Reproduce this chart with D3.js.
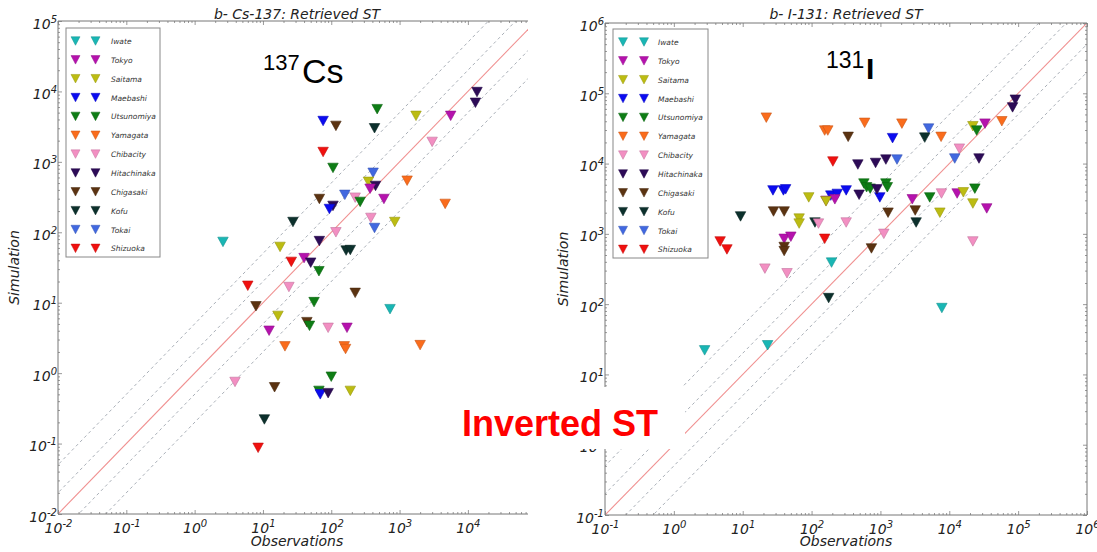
<!DOCTYPE html>
<html><head><meta charset="utf-8">
<script src="https://cdn.jsdelivr.net/npm/d3@7"></script>
<style>body{margin:0;background:#fff}svg{display:block}</style>
</head><body>
<svg id="c" width="1097" height="552" font-family="DejaVu Sans, sans-serif"></svg>
<script>
// ---------- data ----------
const stations = ["Iwate","Tokyo","Saitama","Maebashi","Utsunomiya","Yamagata","Chibacity","Hitachinaka","Chigasaki","Kofu","Tokai","Shizuoka"];
const stationColors = ["#19b6b4","#b512ad","#bcbc12","#0b0bf0","#0e7d15","#fa6c1c","#f28fc2","#2d0b57","#5b3311","#0c302c","#4168e0","#f0100f"];

// Cs-137 panel
const csStation = ["Hitachinaka","Hitachinaka","Utsunomiya","Saitama","Tokyo","Maebashi","Chigasaki","Kofu","Chibacity","Shizuoka",
  "Utsunomiya","Tokai","Saitama","Hitachinaka","Tokyo","Yamagata","Yamagata","Tokyo","Chigasaki","Tokai",
  "Chibacity","Utsunomiya","Hitachinaka","Maebashi","Chibacity","Saitama","Tokai","Kofu","Chibacity","Iwate",
  "Hitachinaka","Saitama","Kofu","Kofu","Shizuoka","Tokyo","Hitachinaka","Utsunomiya","Shizuoka","Chibacity",
  "Chigasaki","Utsunomiya","Chigasaki","Iwate","Saitama","Chigasaki","Utsunomiya","Tokyo","Chibacity","Tokyo",
  "Yamagata","Yamagata","Yamagata","Yamagata","Chibacity","Chigasaki","Utsunomiya","Utsunomiya","Maebashi","Hitachinaka",
  "Saitama","Kofu","Shizuoka"];
const csObs = [13600,12900,470,1740,5600,76,117,430,3000,76,
  106,410,350,445,370,1290,4650,590,67,158,
  224,265,106,94,380,850,430,27.5,117,2.6,
  67,17.8,165,190,26,40,50,66,6.0,24,
  224,56,7.9,725,16.6,44,48,12.3,90,170,
  21,155,162,2000,3.9,14.8,100,66,69,90,
  190,10.5,8.5];
const csSim = [9800,6900,5600,4500,4500,3800,3240,3000,1920,1380,
  820,700,520,455,415,540,253,297,297,340,
  310,270,237,214,160,140,115,140,100,73,
  75,62,55,56,38,43,37,28,17.4,16.7,
  13.8,10.2,8.9,8.1,6.5,5.3,4.7,4.0,4.4,4.4,
  2.4,2.4,2.2,2.5,0.75,0.63,0.89,0.56,0.5,0.52,
  0.56,0.22,0.087];

// I-131 panel
const iStation = ["Hitachinaka","Hitachinaka","Yamagata","Yamagata","Yamagata","Yamagata","Yamagata","Yamagata","Yamagata","Chigasaki",
  "Tokai","Kofu","Maebashi","Saitama","Tokyo","Utsunomiya","Chibacity","Tokai","Hitachinaka","Shizuoka",
  "Hitachinaka","Hitachinaka","Hitachinaka","Tokai","Maebashi","Maebashi","Maebashi","Maebashi","Maebashi","Maebashi",
  "Maebashi","Utsunomiya","Utsunomiya","Utsunomiya","Utsunomiya","Utsunomiya","Hitachinaka","Hitachinaka","Tokyo","Tokyo",
  "Saitama","Saitama","Chigasaki","Chigasaki","Kofu","Saitama","Saitama","Kofu","Chibacity","Chibacity",
  "Chigasaki","Chigasaki","Kofu","Utsunomiya","Tokyo","Chibacity","Tokyo","Saitama","Utsunomiya","Saitama",
  "Tokyo","Saitama","Chibacity","Chibacity","Chigasaki","Tokyo","Tokyo","Chigasaki","Chigasaki","Shizuoka",
  "Shizuoka","Shizuoka","Chibacity","Chibacity","Iwate","Kofu","Iwate","Iwate","Iwate"];
const iObs = [91000,83000,22,155,172,590,2050,7600,58000,340,
  5000,4400,1500,22000,33000,25000,14000,12000,27000,204,
  470,850,1200,1740,27.5,39,42,190,236,318,
  980,575,630,710,1200,1260,490,890,218,162,
  91,162,28,40,9.3,66,66,112,126,318,
  1290,3200,3300,5200,2900,7700,13000,16000,23500,22000,
  35000,7300,1120,22000,740,40,50,40,40,155,
  4.7,5.9,21,44,195,177,7800,2.8,23];
const iSim = [81000,63000,45000,29500,29500,38000,37000,24000,40000,24000,
  31500,23400,23000,34000,37000,29500,16300,11800,11800,10700,
  9700,10200,11400,11400,4150,4150,4300,3500,3700,4150,
  3300,5200,4600,4400,5200,4600,3600,4300,3100,2950,
  3300,2900,2080,2080,1770,1650,1400,1450,1400,1450,
  2000,2150,1450,3300,3100,3750,3750,3900,4400,2700,
  2300,2000,1000,780,620,850,910,650,570,850,
  780,600,320,275,390,122,88,22,26];

// tick exponents
const csXTicks = [-2,-1,0,1,2,3,4];
const csYTicks = [-2,-1,0,1,2,3,4,5];
const iXTicks = [-1,0,1,2,3,4,5,6];
const iYTicks = [-1,0,1,2,3,4,5,6];
const diagRatios = [0.2,0.5,2,5];

// ---------- drawing ----------
const svg = d3.select("#c");
const colorOf = name => stationColors[stations.indexOf(name)];
const tri = (w,h) => `M${-w/2},${-h/2}L${w/2},${-h/2}L0,${h/2}Z`;

function superLabel(sel){
  sel.each(function(d){
    const e = Math.round(Math.log10(d));
    const t = d3.select(this);
    t.text(null);
    t.append("tspan").text("10");
    t.append("tspan").attr("dy",-6).attr("font-size",10).text(e);
  });
}

function panel(p){
  const g = svg.append("g");
  const x = d3.scaleLog().domain(p.xDom).range(p.xR);
  const y = d3.scaleLog().domain(p.yDom).range(p.yR);
  const [x0,x1] = p.xR, [y0,y1] = p.yR;

  g.append("clipPath").attr("id",p.id).append("rect")
    .attr("x",x0).attr("y",y1).attr("width",x1-x0).attr("height",y0-y1);

  const lo = 1e-4, hi = 1e8;
  const line = d3.line();
  g.append("path").attr("clip-path",`url(#${p.id})`)
    .attr("d", line([[x(lo),y(lo)],[x(hi),y(hi)]]))
    .attr("stroke","#f09090").attr("stroke-width",1.1).attr("fill","none");
  diagRatios.forEach(r=>{
    g.append("path").attr("clip-path",`url(#${p.id})`)
      .attr("d", line([[x(lo),y(lo*r)],[x(hi),y(hi*r)]]))
      .attr("stroke","#aab0b8").attr("stroke-width",1).attr("stroke-dasharray","3,3").attr("fill","none");
  });

  const minX = [], minY = [];
  for(let e=-3;e<8;e++) for(let k=2;k<10;k++){
    const v = k*Math.pow(10,e);
    if(v>p.xDom[0] && v<p.xDom[1]) minX.push(v);
    if(v>p.yDom[0] && v<p.yDom[1]) minY.push(v);
  }
  const majX = p.xTicks.map(e=>Math.pow(10,e));
  const majY = p.yTicks.map(e=>Math.pow(10,e));

  const styleAxis = a => { a.select(".domain").remove(); a.selectAll(".tick line").attr("stroke","#999"); };
  const lab = s => s.attr("font-size",14).attr("font-style","italic").attr("fill","#222")
    .style("font-family","DejaVu Sans, sans-serif");

  const bx = g.append("g").attr("transform",`translate(0,${y0})`)
    .call(d3.axisBottom(x).tickValues(majX).tickSizeInner(-4).tickSizeOuter(0));
  styleAxis(bx);
  bx.selectAll(".tick text").attr("y",19).attr("dy",null).call(lab).call(superLabel);
  g.append("g").attr("transform",`translate(0,${y0})`)
    .call(d3.axisBottom(x).tickValues(minX).tickSizeInner(-2).tickSizeOuter(0).tickFormat(()=>"")).call(styleAxis);

  const ly = g.append("g").attr("transform",`translate(${x0},0)`)
    .call(d3.axisLeft(y).tickValues(majY).tickSizeInner(-4).tickSizeOuter(0));
  styleAxis(ly);
  ly.selectAll(".tick text").attr("x",-1).attr("y",7).attr("dy",null).call(lab).call(superLabel);
  g.append("g").attr("transform",`translate(${x0},0)`)
    .call(d3.axisLeft(y).tickValues(minY).tickSizeInner(-2).tickSizeOuter(0).tickFormat(()=>"")).call(styleAxis);

  g.append("g").attr("transform",`translate(0,${y1})`)
    .call(d3.axisTop(x).tickValues(majX).tickSizeInner(-4).tickSizeOuter(0).tickFormat(()=>"")).call(styleAxis);
  g.append("g").attr("transform",`translate(0,${y1})`)
    .call(d3.axisTop(x).tickValues(minX).tickSizeInner(-2).tickSizeOuter(0).tickFormat(()=>"")).call(styleAxis);
  if(p.rightFrame){
    g.append("g").attr("transform",`translate(${x1},0)`)
      .call(d3.axisRight(y).tickValues(majY).tickSizeInner(-4).tickSizeOuter(0).tickFormat(()=>"")).call(styleAxis);
    g.append("g").attr("transform",`translate(${x1},0)`)
      .call(d3.axisRight(y).tickValues(minY).tickSizeInner(-2).tickSizeOuter(0).tickFormat(()=>"")).call(styleAxis);
  }

  const fr = p.rightFrame
    ? `M${x0},${y1}H${x1}V${y0}H${x0}Z`
    : `M${x1},${y1}H${x0}V${y0}H${x1}`;
  g.append("path").attr("d",fr).attr("fill","none").attr("stroke","#777").attr("stroke-width",1);

  g.append("g").attr("clip-path",`url(#${p.id})`)
    .selectAll("path").data(p.obs.map((v,i)=>i)).join("path")
    .attr("d",tri(10.5,9.5))
    .attr("transform",i=>`translate(${x(p.obs[i])},${y(p.sim[i])})`)
    .attr("fill",i=>colorOf(p.st[i]))
    .attr("stroke",i=>d3.color(colorOf(p.st[i])).darker(0.6))
    .attr("stroke-width",0.6);

  g.append("text").attr("x",p.cx).attr("y",19).attr("text-anchor","middle").call(lab).text(p.title);
  g.append("text").attr("x",p.cx).attr("y",546).attr("text-anchor","middle").call(lab).text("Observations");
  g.append("text").attr("transform",`translate(${p.ylx},${(y0+y1)/2}) rotate(-90)`).attr("text-anchor","middle")
    .call(lab).text("Simulation");

  const L = p.leg;
  const lg = g.append("g");
  lg.append("rect").attr("x",L.x).attr("y",L.y).attr("width",L.w).attr("height",L.h)
    .attr("fill","#fff").attr("stroke","#888").attr("stroke-width",1);
  stations.forEach((s,i)=>{
    const ry = L.y + 13 + i*18.85;
    L.mx.forEach(mx=>{
      lg.append("path").attr("d",tri(9,8.5)).attr("transform",`translate(${mx},${ry})`)
        .attr("fill",stationColors[i]).attr("stroke",d3.color(stationColors[i]).darker(0.6)).attr("stroke-width",0.5);
    });
    lg.append("text").attr("x",L.tx).attr("y",ry+3).attr("font-size",7.5).attr("font-style","italic")
      .attr("fill","#333").style("font-family","DejaVu Sans, sans-serif").text(s);
  });
}

panel({id:"cs", xDom:[1e-2, Math.pow(10,4.88)], yDom:[1e-2,1e5], xR:[58,528], yR:[514,21],
  xTicks:csXTicks, yTicks:csYTicks, obs:csObs, sim:csSim, st:csStation, rightFrame:false,
  title:"b- Cs-137: Retrieved ST", cx:297, ylx:19,
  leg:{x:66,y:28,w:94,h:229,mx:[75.5,95.5],tx:111}});
panel({id:"io", xDom:[1e-1,1e6], yDom:[1e-1,1e6], xR:[605,1087], yR:[515,23],
  xTicks:iXTicks, yTicks:iYTicks, obs:iObs, sim:iSim, st:iStation, rightFrame:true,
  title:"b- I-131: Retrieved ST", cx:846, ylx:568,
  leg:{x:613,y:29,w:95,h:229,mx:[623,644],tx:658}});

// annotations
const AR = "Liberation Sans, Arial, sans-serif";
const ann = svg.append("g").attr("fill","#000");
ann.append("text").attr("x",263).attr("y",70).attr("font-size",22).style("font-family",AR).text("137");
ann.append("text").attr("x",302).attr("y",83).attr("font-size",34).style("font-family",AR).text("Cs");
ann.append("text").attr("x",826).attr("y",68).attr("font-size",23).style("font-family",AR).text("131");
ann.append("text").attr("x",866).attr("y",79).attr("font-size",30).attr("font-weight","bold").style("font-family",AR).text("I");

svg.append("rect").attr("x",440).attr("y",387).attr("width",245).attr("height",62).attr("fill","#fff");
svg.append("text").attr("x",462).attr("y",436).style("font-family",AR)
  .attr("font-weight","bold").attr("font-size",36).attr("fill","#ff0000").text("Inverted ST");
</script>
</body></html>
